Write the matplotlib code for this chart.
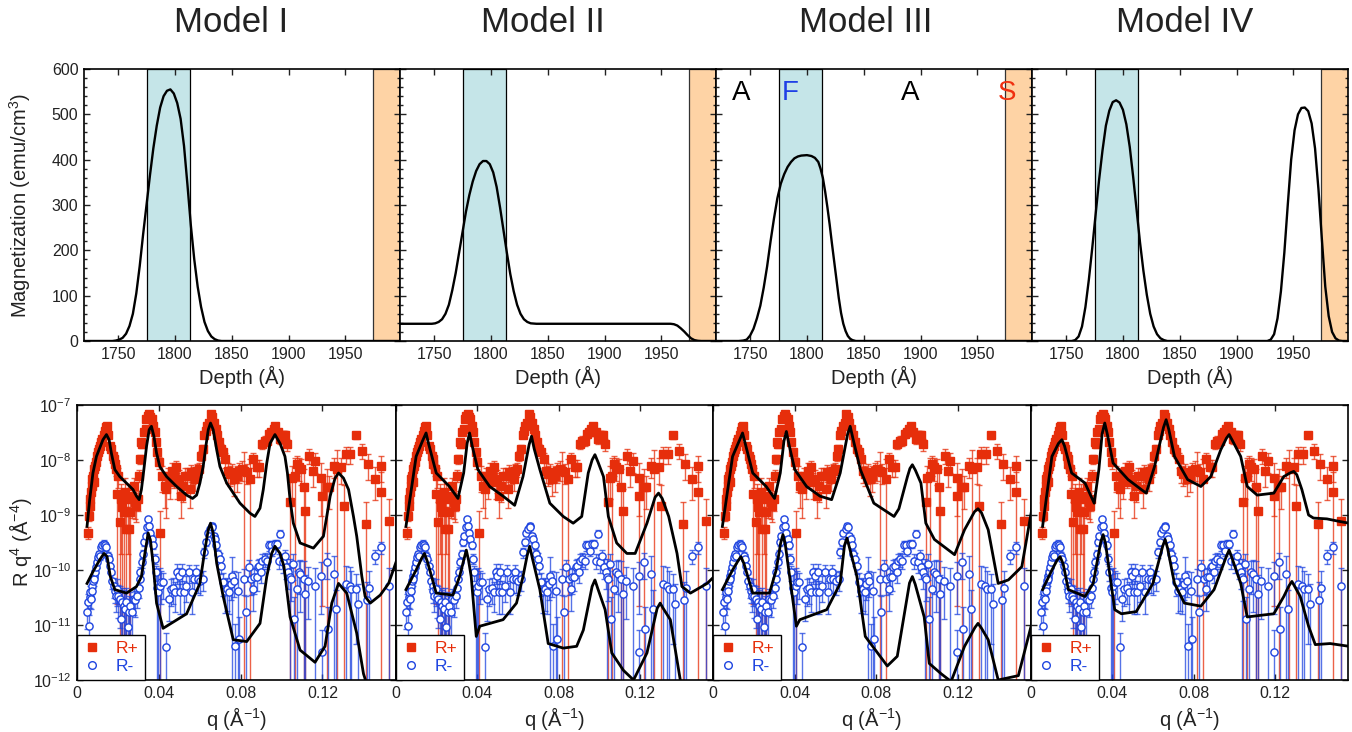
import numpy as np
import matplotlib
matplotlib.use('Agg')
import matplotlib.pyplot as plt
from matplotlib.lines import Line2D
from matplotlib.ticker import MultipleLocator, NullLocator, FixedLocator, FuncFormatter, LogLocator

plt.rcParams['font.family'] = ['Liberation Sans', 'DejaVu Sans']
plt.rcParams['mathtext.fontset'] = 'custom'
plt.rcParams['mathtext.rm'] = 'Liberation Sans'
plt.rcParams['mathtext.it'] = 'Liberation Sans:italic'
plt.rcParams['mathtext.default'] = 'regular'

# ---------------- data ----------------
model_names = ['Model I', 'Model II', 'Model III', 'Model IV']

band_F = (1775, 1813)
band_S = (1974, 2010)

depth_I = [1720, 1745, 1748, 1751, 1754, 1757, 1760, 1763, 1766, 1769, 1772, 1775, 1778, 1781, 1784,
           1787, 1790, 1793, 1796, 1799, 1802, 1805, 1808, 1811, 1814, 1817, 1820, 1823, 1826, 1829,
           1832, 1835, 1838, 1841, 1998]
mag_I = [0, 0, 1, 3, 7, 16, 33, 60, 105, 165, 235, 300, 365, 425, 475,
         515, 540, 552, 555, 546, 525, 490, 430, 345, 255, 180, 120, 75, 42, 22,
         10, 4, 1, 0, 0]

depth_II = [1720, 1748, 1751, 1754, 1757, 1760, 1763, 1766, 1769, 1772, 1775, 1778, 1781, 1784, 1787,
            1790, 1793, 1796, 1799, 1802, 1805, 1808, 1811, 1814, 1817, 1820, 1823, 1826, 1829, 1832,
            1835, 1840, 1958, 1961, 1964, 1967, 1970, 1973, 1976, 1979, 1982, 1985, 1998]
mag_II = [38, 38, 39, 42, 48, 60, 80, 112, 150, 195, 240, 285, 322, 352, 375,
          390, 397, 397, 390, 372, 340, 295, 245, 195, 148, 110, 80, 60, 48, 42,
          39, 38, 38, 37, 34, 28, 21, 13, 6, 2, 0.5, 0, 0]

depth_III = [1720, 1740, 1744, 1747, 1750, 1753, 1756, 1759, 1762, 1765, 1768, 1771, 1774, 1777, 1780,
             1783, 1786, 1789, 1792, 1795, 1800, 1804, 1807, 1810, 1812, 1814, 1816, 1818, 1820, 1822,
             1824, 1826, 1828, 1830, 1832, 1834, 1836, 1838, 1840, 1843, 1998]
mag_III = [0, 0, 1, 3, 12, 27, 50, 78, 118, 165, 220, 270, 315, 347, 368,
           384, 395, 403, 407, 409, 410, 408, 404, 395, 380, 360, 330, 295, 257, 215,
           175, 135, 95, 62, 38, 22, 11, 5, 2, 0, 0]

depth_IV = [1720, 1755, 1758, 1761, 1764, 1767, 1770, 1773, 1776, 1779, 1782, 1785, 1788, 1791, 1794,
            1797, 1800, 1803, 1806, 1809, 1812, 1815, 1818, 1821, 1824, 1827, 1830, 1833, 1836, 1839,
            1927, 1930, 1933, 1936, 1939, 1942, 1945, 1948, 1951, 1954, 1957, 1960, 1963, 1966, 1969,
            1972, 1975, 1978, 1981, 1984, 1987, 1990, 1993, 1998]
mag_IV = [0, 0, 2, 10, 32, 75, 135, 205, 280, 355, 420, 475, 508, 527, 531,
          526, 510, 478, 428, 362, 290, 218, 155, 102, 60, 32, 15, 6, 2, 0,
          0, 3, 15, 50, 110, 195, 300, 400, 465, 500, 514, 515, 507, 480, 425,
          335, 225, 120, 55, 20, 6, 1, 0, 0]

# measured reflectivity R q^4 (shared by all models)
q_plus = [0.0054, 0.0057, 0.0062, 0.0065, 0.0069, 0.0072, 0.0075, 0.0078, 0.0082, 0.0085,
          0.0090, 0.0093, 0.0098, 0.0103, 0.0108, 0.0114, 0.0119, 0.0124, 0.0131, 0.0137,
          0.0144, 0.0147, 0.0153, 0.0160, 0.0168, 0.0175, 0.0180, 0.0184, 0.0191, 0.0196,
          0.0201, 0.0209, 0.0215, 0.0222, 0.0228, 0.0235, 0.0242, 0.0248, 0.0255, 0.0261,
          0.0269, 0.0277, 0.0286, 0.0290, 0.0297, 0.0302, 0.0307, 0.0313, 0.0320, 0.0326,
          0.0335, 0.0339, 0.0346, 0.0353, 0.0359, 0.0366, 0.0372, 0.0379, 0.0385, 0.0392,
          0.0400, 0.0408, 0.0418, 0.0428, 0.0437, 0.0444, 0.0454, 0.0465, 0.0473, 0.0483,
          0.0490, 0.0499, 0.0509, 0.0519, 0.0529, 0.0539, 0.0552, 0.0558, 0.0568, 0.0579,
          0.0588, 0.0597, 0.0607, 0.0614, 0.0623, 0.0630, 0.0636, 0.0646, 0.0653, 0.0661,
          0.0669, 0.0679, 0.0685, 0.0695, 0.0705, 0.0715, 0.0726, 0.0738, 0.0747, 0.0759,
          0.0770, 0.0780, 0.0793, 0.0806, 0.0819, 0.0831, 0.0847, 0.0863, 0.0880, 0.0891,
          0.0904, 0.0917, 0.0929, 0.0940, 0.0950, 0.0961, 0.0969, 0.0982, 0.0994, 0.1005,
          0.1018, 0.1028, 0.1043, 0.1051, 0.1064, 0.1075, 0.1084, 0.1097, 0.1108, 0.1116,
          0.1136, 0.1152, 0.1165, 0.1195, 0.1198, 0.1222, 0.1231, 0.1255, 0.1271, 0.1293,
          0.1306, 0.1315, 0.1337, 0.1364, 0.1394, 0.1413, 0.1423, 0.1456, 0.1485, 0.1487,
          0.1526]
R_plus = [4.8e-10, 9.7e-10, 1.95e-9, 1.48e-9, 2.6e-9, 4.5e-9, 3.4e-9, 5.2e-9, 6.9e-9, 3.9e-9,
          7.9e-9, 9.1e-9, 1.2e-8, 1.38e-8, 1.6e-8, 1.8e-8, 2.1e-8, 2.4e-8, 2.8e-8, 3.4e-8,
          3.9e-8, 4.2e-8, 2.8e-8, 1.8e-8, 1.6e-8, 1.2e-8, 1.04e-8, 8.5e-9, 6.9e-9, 2.4e-9,
          5.2e-9, 7.4e-10, 1.95e-9, 1.38e-9, 1.12e-9, 2.6e-9, 5.6e-10, 1.95e-9, 5.6e-10, 1.12e-9,
          2.25e-9, 3.4e-9, 1.7e-9, 1.48e-9, 1.95e-9, 5.2e-9, 1.04e-8, 2.1e-8, 1.95e-8, 3.2e-8,
          3.7e-8, 5.6e-8, 6.4e-8, 6.9e-8, 6.0e-8, 5.6e-8, 4.2e-8, 3.2e-8, 2.1e-8, 1.38e-8,
          9.1e-9, 4.8e-10, 5.2e-9, 3.4e-9, 3.0e-9, 5.2e-9, 3.9e-9, 6.4e-9, 5.2e-9, 7.4e-9,
          3.9e-9, 4.5e-9, 2.25e-9, 3.4e-9, 5.2e-9, 5.2e-9, 3.0e-9, 6.0e-9, 5.6e-9, 4.5e-9,
          6.4e-9, 6.9e-9, 1.2e-8, 1.6e-8, 2.8e-8, 3.4e-8, 4.2e-8, 4.8e-8, 6.9e-8, 6.0e-8,
          4.8e-8, 3.7e-8, 2.8e-8, 2.1e-8, 1.6e-8, 1.38e-8, 1.04e-8, 6.4e-9, 5.6e-9, 6.0e-9,
          4.5e-9, 5.2e-9, 6.4e-9, 6.9e-9, 6.4e-9, 6.0e-9, 4.5e-9, 1.04e-8, 7.4e-9, 7.4e-9,
          1.95e-8, 2.25e-8, 2.25e-8, 3.0e-8, 3.2e-8, 3.7e-8, 4.2e-8, 3.2e-8, 2.4e-8, 2.8e-8,
          2.8e-8, 1.95e-8, 1.7e-9, 4.8e-9, 5.2e-9, 8.5e-9, 7.4e-9, 6.9e-9, 3.2e-9, 1.2e-9,
          1.2e-8, 6.4e-9, 9.7e-9, 4.8e-9, 2.25e-9, 3.2e-9, 3.2e-9, 7.9e-9, 6.9e-9, 7.4e-9,
          1.48e-9, 1.29e-8, 1.29e-8, 2.8e-8, 1.48e-8, 6.9e-10, 8.5e-9, 4.6e-9, 7.9e-9, 2.6e-9,
          7.9e-10]
relerr_plus = [0.25, 0.2, 0.2, 0.2, 0.15, 0.15, 0.15, 0.15, 0.12, 0.15,
               0.12, 0.1, 0.1, 0.1, 0.1, 0.1, 0.1, 0.1, 0.1, 0.1,
               0.1, 0.1, 0.1, 0.12, 0.12, 0.15, 0.15, 0.2, 0.25, 0.99,
               0.4, 1.3, 0.9, 1.1, 1.2, 0.8, 1.5, 0.9, 1.5, 1.0,
               0.6, 0.4, 0.5, 0.5, 0.4, 0.25, 0.2, 0.15, 0.15, 0.1,
               0.1, 0.1, 0.1, 0.1, 0.1, 0.1, 0.1, 0.1, 0.15, 0.2,
               0.25, 1.5, 0.5, 0.6, 0.7, 0.4, 0.5, 0.35, 0.4, 0.3,
               0.5, 0.45, 0.6, 0.5, 0.4, 0.4, 0.55, 0.35, 0.35, 0.4,
               0.3, 0.3, 0.2, 0.15, 0.12, 0.1, 0.1, 0.1, 0.1, 0.1,
               0.1, 0.1, 0.12, 0.15, 0.2, 0.2, 0.3, 0.4, 0.4, 0.4,
               0.5, 0.5, 0.4, 0.4, 1.2, 0.4, 1.3, 0.3, 0.35, 0.35,
               0.2, 0.2, 0.2, 0.15, 0.15, 0.12, 0.12, 0.15, 0.2, 0.2,
               0.2, 0.25, 1.5, 0.6, 1.1, 0.4, 0.45, 0.5, 1.1, 1.5,
               0.3, 0.5, 0.4, 0.8, 0.99, 1.1, 0.6, 0.4, 1.2, 0.5,
               1.4, 0.35, 0.35, 0.15, 0.3, 1.5, 0.5, 0.6, 0.5, 1.3,
               1.5]

q_minus = [0.0049, 0.0054, 0.0059, 0.0062, 0.0065, 0.0069, 0.0072, 0.0075, 0.0078, 0.0082,
           0.0085, 0.0090, 0.0095, 0.0098, 0.0103, 0.0108, 0.0114, 0.0119, 0.0124, 0.0131,
           0.0137, 0.0144, 0.0150, 0.0155, 0.0160, 0.0166, 0.0173, 0.0180, 0.0184, 0.0189,
           0.0196, 0.0202, 0.0209, 0.0215, 0.0222, 0.0228, 0.0235, 0.0242, 0.0248, 0.0255,
           0.0261, 0.0269, 0.0277, 0.0286, 0.0294, 0.0302, 0.0307, 0.0310, 0.0317, 0.0323,
           0.0330, 0.0336, 0.0343, 0.0348, 0.0353, 0.0359, 0.0366, 0.0372, 0.0379, 0.0385,
           0.0392, 0.0398, 0.0405, 0.0411, 0.0421, 0.0437, 0.0449, 0.0460, 0.0470, 0.0481,
           0.0490, 0.0498, 0.0506, 0.0514, 0.0522, 0.0535, 0.0547, 0.0563, 0.0574, 0.0584,
           0.0591, 0.0601, 0.0617, 0.0623, 0.0633, 0.0640, 0.0650, 0.0658, 0.0661, 0.0669,
           0.0676, 0.0682, 0.0689, 0.0698, 0.0705, 0.0715, 0.0725, 0.0734, 0.0744, 0.0751,
           0.0759, 0.0767, 0.0774, 0.0786, 0.0790, 0.0819, 0.0826, 0.0839, 0.0849, 0.0863,
           0.0868, 0.0878, 0.0884, 0.0891, 0.0901, 0.0907, 0.0917, 0.0929, 0.0937, 0.0947,
           0.0953, 0.0966, 0.0976, 0.0986, 0.0994, 0.1005, 0.1015, 0.1022, 0.1031, 0.1040,
           0.1045, 0.1054, 0.1059, 0.1075, 0.1084, 0.1092, 0.1108, 0.1116, 0.1132, 0.1165,
           0.1195, 0.1198, 0.1222, 0.1226, 0.1255, 0.1267, 0.1315, 0.1335, 0.1342, 0.1364,
           0.1374, 0.1418, 0.1426, 0.1456, 0.1487, 0.1526]
R_minus = [1.7e-11, 2.6e-11, 9.7e-12, 3.2e-11, 3.9e-11, 3.0e-11, 5.2e-11, 4.2e-11, 6.4e-11, 7.9e-11,
           6.9e-11, 9.1e-11, 1.12e-10, 1.38e-10, 1.7e-10, 1.95e-10, 1.8e-10, 2.6e-10, 2.8e-10, 3.0e-10,
           2.8e-10, 2.6e-10, 1.8e-10, 1.6e-10, 1.2e-10, 9.1e-11, 6.4e-11, 5.2e-11, 4.2e-11, 3.4e-11,
           4.5e-11, 3.4e-11, 3.0e-11, 1.29e-11, 2.6e-11, 2.25e-11, 1.95e-11, 2.6e-11, 9.1e-12, 1.7e-11,
           2.25e-11, 1.7e-11, 3.0e-11, 2.8e-11, 3.4e-11, 4.8e-11, 6.9e-11, 9.1e-11, 1.38e-10, 1.95e-10,
           3.2e-10, 4.2e-10, 6.0e-10, 8.5e-10, 6.4e-10, 4.8e-10, 3.7e-10, 2.8e-10, 1.6e-10, 9.1e-11,
           4.8e-11, 3.9e-11, 5.2e-11, 6.0e-11, 6.0e-11, 3.9e-12, 3.0e-11, 4.5e-11, 4.8e-11, 3.9e-11,
           9.1e-11, 7.9e-11, 3.9e-11, 9.1e-11, 3.9e-11, 5.2e-11, 9.1e-11, 3.9e-11, 6.9e-11, 9.1e-11,
           6.9e-11, 6.4e-11, 6.9e-11, 2.1e-10, 3.2e-10, 4.8e-10, 5.6e-10, 6.4e-10, 6.0e-10, 4.2e-10,
           3.7e-10, 2.8e-10, 1.95e-10, 1.6e-10, 1.2e-10, 6.0e-11, 4.2e-11, 4.5e-11, 3.9e-11, 5.6e-11,
           7.9e-11, 6.4e-11, 4.2e-12, 4.2e-11, 5.6e-12, 6.9e-11, 1.7e-11, 1.12e-10, 6.9e-11, 4.5e-11,
           7.4e-11, 7.4e-11, 1.12e-10, 1.2e-10, 9.1e-11, 1.48e-10, 1.6e-10, 1.48e-10, 2.8e-10, 2.8e-10,
           2.25e-10, 3.0e-10, 3.0e-10, 1.48e-10, 4.6e-10, 1.38e-10, 1.8e-10, 1.12e-10, 9.1e-11, 7.4e-11,
           6.9e-11, 1.29e-10, 1.29e-11, 4.5e-11, 9.1e-11, 8.5e-11, 6.9e-11, 3.7e-11, 6.4e-11, 5.2e-11,
           7.9e-11, 3.2e-12, 1.38e-10, 8.5e-12, 8.5e-11, 1.95e-11, 5.6e-11, 5.2e-11, 4.5e-11, 4.5e-11,
           2.4e-11, 2.8e-11, 4.8e-11, 1.8e-10, 2.6e-10, 5.2e-11]
relerr_minus = [0.5, 0.4, 0.6, 0.35, 0.3, 0.35, 0.3, 0.3, 0.25, 0.25,
                0.25, 0.2, 0.2, 0.2, 0.15, 0.15, 0.15, 0.15, 0.15, 0.15,
                0.15, 0.15, 0.2, 0.2, 0.25, 0.3, 0.3, 0.4, 0.4, 0.5,
                0.5, 0.6, 0.7, 1.2, 0.8, 0.9, 1.0, 0.8, 1.3, 1.0,
                0.8, 0.9, 0.5, 0.5, 0.4, 0.35, 0.3, 0.25, 0.2, 0.2,
                0.15, 0.12, 0.1, 0.1, 0.1, 0.12, 0.15, 0.15, 0.2, 0.3,
                1.2, 1.2, 1.1, 0.6, 0.5, 0.8, 0.6, 0.5, 0.5, 0.55,
                0.4, 0.4, 0.6, 0.4, 0.6, 0.5, 0.35, 0.6, 0.45, 0.35,
                0.45, 0.45, 0.4, 0.2, 0.15, 0.12, 0.1, 0.1, 0.1, 0.12,
                0.15, 0.15, 0.2, 0.25, 0.3, 0.45, 0.6, 0.6, 0.6, 0.5,
                1.2, 0.5, 1.5, 1.2, 1.5, 0.5, 1.0, 0.35, 0.5, 0.6,
                0.5, 0.45, 0.35, 0.3, 0.35, 0.3, 0.3, 0.3, 0.2, 0.2,
                0.2, 0.15, 0.15, 0.3, 0.15, 0.35, 0.3, 0.4, 0.5, 1.1,
                0.6, 0.5, 1.5, 1.1, 0.6, 0.8, 1.1, 1.2, 0.8, 1.1,
                0.8, 1.5, 0.5, 1.5, 1.1, 1.2, 1.1, 1.2, 1.1, 0.9,
                1.3, 1.2, 1.0, 0.3, 0.25, 1.1]

# model fits
fitI_q_plus = [0.0049, 0.0062, 0.0078, 0.0095, 0.0111, 0.0127, 0.0144, 0.0157, 0.0168, 0.0185,
               0.0209, 0.0242, 0.0274, 0.0291, 0.0304, 0.0315, 0.0327, 0.0340, 0.0353, 0.0364,
               0.0376, 0.0389, 0.0405, 0.0438, 0.0487, 0.0536, 0.0565, 0.0585, 0.0601, 0.0617,
               0.0630, 0.0642, 0.0653, 0.0666, 0.0683, 0.0699, 0.0732, 0.0797, 0.0846, 0.0870,
               0.0895, 0.0911, 0.0928, 0.0944, 0.0968, 0.0993, 0.1017, 0.1029, 0.1042, 0.1058,
               0.1091, 0.1156, 0.1205, 0.1238, 0.1262, 0.1279, 0.1303, 0.1328, 0.1352, 0.1368,
               0.1393, 0.1409, 0.1434, 0.1483, 0.1524, 0.1564]
fitI_R_plus = [6.2e-10, 1.9e-9, 5.8e-9, 1.16e-8, 1.65e-8, 2.34e-8, 2.9e-8, 2.34e-8, 1.34e-8, 6.7e-9,
               5.0e-9, 3.8e-9, 2.9e-9, 2.2e-9, 1.9e-9, 2.9e-9, 6.7e-9, 1.77e-8, 3.56e-8, 4.1e-8,
               2.7e-8, 1.34e-8, 7.6e-9, 5.0e-9, 3.3e-9, 2.3e-9, 2.0e-9, 2.3e-9, 3.8e-9, 7.6e-9,
               1.77e-8, 3.56e-8, 4.7e-8, 3.56e-8, 1.54e-8, 7.6e-9, 3.8e-9, 1.64e-9, 1.08e-9, 9.4e-10,
               1.33e-9, 2.9e-9, 8.8e-9, 2.0e-8, 2.9e-8, 2.0e-8, 1.16e-8, 5.8e-9, 1.9e-9, 7.1e-10,
               3.1e-10, 2.5e-10, 4.1e-10, 2.2e-9, 4.7e-9, 5.8e-9, 4.7e-9, 2.9e-9, 9.4e-10, 4.1e-10,
               7.6e-11, 3.3e-11, 2.5e-11, 3.5e-11, 5.7e-11, 1.53e-10]
fitI_q_minus = [0.0049, 0.0078, 0.0111, 0.0132, 0.0147, 0.0163, 0.0185, 0.0242, 0.0291, 0.0315,
                0.0332, 0.0348, 0.0359, 0.0372, 0.0389, 0.0421, 0.0536, 0.0601, 0.0625, 0.0642,
                0.0653, 0.0666, 0.0683, 0.0715, 0.0764, 0.0830, 0.0895, 0.0928, 0.0952, 0.0968,
                0.0993, 0.1012, 0.1042, 0.1091, 0.1164, 0.1213, 0.1246, 0.1279, 0.1319, 0.1368,
                0.1401, 0.1426]
fitI_R_minus = [5.7e-11, 9.3e-11, 1.53e-10, 2.0e-10, 1.76e-10, 7.6e-11, 4.4e-11, 3.8e-11, 5.0e-11, 7.6e-11,
                2.0e-10, 4.7e-10, 3.5e-10, 1.33e-10, 2.5e-11, 8.7e-12, 1.6e-11, 5.7e-11, 2.3e-10, 5.4e-10,
                7.1e-10, 4.7e-10, 1.33e-10, 3.3e-11, 5.4e-12, 5.0e-12, 1.07e-11, 7.6e-11, 2.0e-10, 2.7e-10,
                2.0e-10, 1.16e-10, 1.4e-11, 3.5e-12, 2.1e-12, 4.1e-12, 2.5e-11, 5.7e-11, 3.8e-11, 7.1e-12,
                1.3e-12, 6.6e-13]

fitII_q_plus = [0.0049, 0.0099, 0.0130, 0.0148, 0.0160, 0.0198, 0.0263, 0.0305, 0.0333, 0.0350,
                0.0362, 0.0375, 0.0403, 0.0461, 0.0527, 0.0584, 0.0625, 0.0655, 0.0667, 0.0680,
                0.0708, 0.0757, 0.0823, 0.0872, 0.0914, 0.0946, 0.0965, 0.0979, 0.0995, 0.1021,
                0.1045, 0.1086, 0.1136, 0.1177, 0.1235, 0.1275, 0.1292, 0.1310, 0.1342, 0.1383,
                0.1407, 0.1449, 0.1531, 0.1572]
fitII_R_plus = [6.2e-10, 1.16e-8, 2.2e-8, 3.1e-8, 2.0e-8, 5.8e-9, 3.3e-9, 2.0e-9, 5.8e-9, 2.0e-8,
                3.1e-8, 1.8e-8, 6.7e-9, 3.3e-9, 2.2e-9, 1.5e-9, 5.0e-9, 1.9e-8, 2.7e-8, 1.6e-8,
                6.7e-9, 1.64e-9, 9.4e-10, 7.1e-10, 9.4e-10, 5.8e-9, 1.0e-8, 1.25e-8, 9.0e-9, 5.0e-9,
                9.4e-10, 3.1e-10, 2.0e-10, 2.0e-10, 7.1e-10, 2.1e-9, 2.5e-9, 2.0e-9, 9.4e-10, 2.0e-10,
                5.0e-11, 3.8e-11, 5.7e-11, 8.0e-11]
fitII_q_minus = [0.0049, 0.0099, 0.0125, 0.0140, 0.0155, 0.0198, 0.0280, 0.0313, 0.0335, 0.0346,
                 0.0357, 0.0370, 0.0395, 0.0412, 0.0527, 0.0593, 0.0625, 0.0645, 0.0658, 0.0670,
                 0.0708, 0.0749, 0.0823, 0.0889, 0.0922, 0.0965, 0.0979, 0.0993, 0.1029, 0.1062,
                 0.1119, 0.1169, 0.1235, 0.1285, 0.1300, 0.1315, 0.1350, 0.1399, 0.1416]
fitII_R_minus = [4.4e-11, 1.0e-10, 1.6e-10, 2.0e-10, 1.4e-10, 3.8e-11, 3.5e-11, 7.6e-11, 1.6e-10, 2.3e-10,
                 1.5e-10, 7.6e-11, 6.2e-12, 9.5e-12, 1.25e-11, 2.5e-11, 7.6e-11, 1.8e-10, 2.7e-10, 1.7e-10,
                 4.4e-11, 4.6e-12, 3.8e-12, 4.1e-12, 8.1e-12, 5.0e-11, 6.6e-11, 4.6e-11, 1.9e-11, 3.1e-12,
                 1.5e-12, 1.0e-12, 3.1e-12, 2.0e-11, 2.5e-11, 2.0e-11, 1.25e-11, 1.0e-12, 6.6e-13]

fitIII_q_plus = [0.0046, 0.0096, 0.0128, 0.0145, 0.0158, 0.0195, 0.0261, 0.0302, 0.0330, 0.0348,
                 0.0360, 0.0373, 0.0401, 0.0459, 0.0525, 0.0582, 0.0624, 0.0660, 0.0673, 0.0686,
                 0.0723, 0.0789, 0.0888, 0.0912, 0.0954, 0.0966, 0.0978, 0.0993, 0.1020, 0.1044,
                 0.1086, 0.1185, 0.1234, 0.1283, 0.1300, 0.1317, 0.1350, 0.1399, 0.1449, 0.1515,
                 0.1572]
fitIII_R_plus = [6.2e-10, 1.16e-8, 2.2e-8, 3.1e-8, 2.0e-8, 5.8e-9, 3.3e-9, 2.0e-9, 5.8e-9, 2.2e-8,
                 3.3e-8, 1.9e-8, 6.7e-9, 3.3e-9, 2.2e-9, 1.9e-9, 5.8e-9, 2.9e-8, 4.1e-8, 2.5e-8,
                 6.7e-9, 1.64e-9, 9.4e-10, 1.3e-9, 5.0e-9, 7.0e-9, 8.2e-9, 6.5e-9, 3.8e-9, 7.1e-10,
                 3.6e-10, 1.9e-10, 5.4e-10, 1.15e-9, 1.3e-9, 1.1e-9, 5.4e-10, 5.7e-11, 6.6e-11, 1.15e-10,
                 1.9e-9]
fitIII_q_minus = [0.0046, 0.0096, 0.0122, 0.0137, 0.0152, 0.0195, 0.0277, 0.0310, 0.0332, 0.0343,
                  0.0354, 0.0376, 0.0409, 0.0426, 0.0558, 0.0624, 0.0645, 0.0657, 0.0669, 0.0706,
                  0.0747, 0.0855, 0.0904, 0.0964, 0.0978, 0.0992, 0.1036, 0.1061, 0.1119, 0.1168,
                  0.1234, 0.1285, 0.1300, 0.1315, 0.1350, 0.1399, 0.1498, 0.1572]
fitIII_R_minus = [4.4e-11, 1.0e-10, 1.45e-10, 1.75e-10, 1.3e-10, 3.8e-11, 3.8e-11, 1.0e-10, 3.1e-10, 4.4e-10,
                  3.0e-10, 7.6e-11, 9.5e-12, 1.25e-11, 1.9e-11, 5.7e-11, 2.8e-10, 3.8e-10, 2.6e-10, 7.6e-11,
                  6.2e-12, 1.8e-12, 2.7e-12, 5.8e-11, 7.6e-11, 5.5e-11, 1.4e-11, 2.0e-12, 1.3e-12, 9.4e-13,
                  4.1e-12, 9.0e-12, 1.07e-11, 9.0e-12, 5.4e-12, 1.0e-12, 1.2e-12, 1.4e-11]

fitIV_q_plus = [0.0057, 0.0103, 0.0135, 0.0152, 0.0165, 0.0200, 0.0266, 0.0311, 0.0334, 0.0350,
                0.0363, 0.0376, 0.0404, 0.0478, 0.0543, 0.0567, 0.0608, 0.0652, 0.0665, 0.0678,
                0.0706, 0.0771, 0.0836, 0.0885, 0.0934, 0.0962, 0.0975, 0.0990, 0.1032, 0.1064,
                0.1113, 0.1195, 0.1244, 0.1278, 0.1293, 0.1308, 0.1333, 0.1366, 0.1390, 0.1456,
                0.1521, 0.1565]
fitIV_R_plus = [6.2e-10, 1.16e-8, 2.0e-8, 2.34e-8, 1.8e-8, 5.8e-9, 3.8e-9, 1.64e-9, 6.7e-9, 3.0e-8,
                4.7e-8, 2.9e-8, 8.8e-9, 4.4e-9, 2.9e-9, 2.5e-9, 7.6e-9, 3.9e-8, 5.4e-8, 3.6e-8,
                1.16e-8, 4.4e-9, 3.3e-9, 5.0e-9, 1.54e-8, 2.5e-8, 2.9e-8, 2.3e-8, 1.16e-8, 3.3e-9,
                2.3e-9, 2.5e-9, 5.0e-9, 5.9e-9, 6.2e-9, 5.4e-9, 2.9e-9, 1.0e-9, 8.8e-10, 8.5e-10,
                7.6e-10, 7.1e-10]
fitIV_q_minus = [0.0057, 0.0103, 0.0128, 0.0143, 0.0158, 0.0184, 0.0266, 0.0306, 0.0343, 0.0355,
                 0.0367, 0.0380, 0.0412, 0.0445, 0.0518, 0.0600, 0.0648, 0.0660, 0.0672, 0.0706,
                 0.0755, 0.0836, 0.0901, 0.0962, 0.0975, 0.0988, 0.1032, 0.1064, 0.1130, 0.1195,
                 0.1244, 0.1270, 0.1284, 0.1298, 0.1325, 0.1366, 0.1399, 0.1472, 0.1565]
fitIV_R_minus = [4.4e-11, 1.0e-10, 1.5e-10, 1.75e-10, 1.3e-10, 4.4e-11, 3.3e-11, 5.7e-11, 3.2e-10, 4.4e-10,
                 3.0e-10, 1.33e-10, 1.9e-11, 1.6e-11, 1.75e-11, 5.7e-11, 2.7e-10, 3.6e-10, 2.5e-10, 5.7e-11,
                 2.5e-11, 2.2e-11, 4.4e-11, 1.8e-10, 2.3e-10, 1.7e-10, 5.7e-11, 1.4e-11, 1.5e-11, 1.6e-11,
                 3.3e-11, 5.2e-11, 6.2e-11, 5.0e-11, 3.3e-11, 9.5e-12, 4.4e-12, 4.6e-12, 4.1e-12]

profiles = [(depth_I, mag_I), (depth_II, mag_II), (depth_III, mag_III), (depth_IV, mag_IV)]
fits = [
    (fitI_q_plus, fitI_R_plus, fitI_q_minus, fitI_R_minus),
    (fitII_q_plus, fitII_R_plus, fitII_q_minus, fitII_R_minus),
    (fitIII_q_plus, fitIII_R_plus, fitIII_q_minus, fitIII_R_minus),
    (fitIV_q_plus, fitIV_R_plus, fitIV_q_minus, fitIV_R_minus),
]

layer_labels = [('A', 1742, 'black'), ('F', 1785, '#1f3fe6'), ('A', 1891, 'black'), ('S', 1976, '#f03010')]

# ---------------- styling ----------------
W, H = 1352, 732
RED = '#e62e0b'
BLUE = '#1e44e0'
TXT = '#222222'
BAND_F_COLOR = '#c5e5e8'
BAND_S_COLOR = '#fed3a5'

fig = plt.figure(figsize=(W / 100, H / 100), dpi=100)

top_lefts = [84, 400, 716, 1032]
top_rights = [400, 716, 1032, 1348]
bot_lefts = [77, 396, 713, 1031]
bot_rights = [396, 713, 1031, 1348]
top_y0, top_y1 = 69, 341
bot_y0, bot_y1 = 405, 680
title_x = [231, 543, 866, 1185]


def tick_style(ax):
    ax.tick_params(which='both', direction='in', top=True, right=True, colors=TXT,
                   labelsize=11.5, width=1.0, pad=4)
    ax.tick_params(which='major', length=4.5)
    ax.tick_params(which='minor', length=2.5)
    for s in ax.spines.values():
        s.set_linewidth(1.2)
        s.set_color('black')


def errs(vals, rel):
    v = np.asarray(vals)
    r = np.asarray(rel)
    lo = np.where(r >= 1, v - 1e-15, v * r)
    hi = v * r
    return [lo, hi]


red_e = matplotlib.colors.to_rgba(RED, 0.75)
blue_e = matplotlib.colors.to_rgba(BLUE, 0.75)

for i in range(4):
    # ---------- top: magnetization profile ----------
    ax = fig.add_axes([top_lefts[i] / W, (H - top_y1) / H,
                       (top_rights[i] - top_lefts[i]) / W, (top_y1 - top_y0) / H])
    ax.axvspan(band_F[0], band_F[1], facecolor=BAND_F_COLOR, edgecolor='black', lw=0.9, zorder=0)
    ax.axvspan(band_S[0], band_S[1], facecolor=BAND_S_COLOR, edgecolor='#333333', lw=0.9, zorder=0)
    d, m = profiles[i]
    ax.plot(d, m, color='black', lw=1.7, zorder=3, solid_joinstyle='round')
    ax.set_xlim(1720, 1998)
    ax.set_ylim(0, 600)
    ax.xaxis.set_major_locator(FixedLocator([1750, 1800, 1850, 1900, 1950]))
    ax.xaxis.set_minor_locator(NullLocator())
    ax.yaxis.set_major_locator(MultipleLocator(100))
    ax.yaxis.set_minor_locator(MultipleLocator(20))
    tick_style(ax)
    ax.set_xlabel('Depth (Å)', fontsize=14.5, color=TXT, labelpad=3)
    if i == 0:
        ax.set_ylabel('Magnetization (emu/cm$^3$)', fontsize=14.5, color=TXT)
        ax.yaxis.set_label_coords(-0.16, 0.5)
    else:
        ax.tick_params(labelleft=False)
    if i == 2:
        for txt, xd, col in layer_labels:
            ax.text(xd, 547, txt, color=col, fontsize=20, ha='center', va='center', zorder=4)
    fig.text(title_x[i] / W, 1 - 22 / H, model_names[i], fontsize=25, color=TXT,
             ha='center', va='center')

    # ---------- bottom: reflectivity ----------
    bx = fig.add_axes([bot_lefts[i] / W, (H - bot_y1) / H,
                       (bot_rights[i] - bot_lefts[i]) / W, (bot_y1 - bot_y0) / H])
    bx.set_yscale('log')
    bx.errorbar(q_plus, R_plus, yerr=errs(R_plus, relerr_plus), fmt='s', ms=5.2,
                mfc=RED, mec=RED, ecolor=red_e, elinewidth=1.0, capsize=2, capthick=1.0, zorder=2)
    bx.errorbar(q_minus, R_minus, yerr=errs(R_minus, relerr_minus), fmt='o', ms=5.2,
                mfc='white', mec=BLUE, mew=1.0, ecolor=blue_e, elinewidth=1.0, capsize=2,
                capthick=1.0, zorder=2.5)
    fqp, frp, fqm, frm = fits[i]
    bx.plot(fqp, frp, color='black', lw=2.0, zorder=4, solid_joinstyle='round')
    bx.plot(fqm, frm, color='black', lw=2.0, zorder=4, solid_joinstyle='round')
    bx.set_xlim(0, 0.156)
    bx.set_ylim(1e-12, 1e-7)
    bx.xaxis.set_major_locator(FixedLocator([0, 0.04, 0.08, 0.12]))
    bx.xaxis.set_major_formatter(FuncFormatter(lambda v, p: '0' if abs(v) < 1e-9 else f'{v:.2f}'))
    bx.xaxis.set_minor_locator(NullLocator())
    bx.yaxis.set_major_locator(LogLocator(base=10, numticks=10))
    bx.yaxis.set_minor_locator(NullLocator())
    tick_style(bx)
    bx.set_xlabel('q (Å$^{-1}$)', fontsize=14.5, color=TXT, labelpad=3)
    if i == 0:
        bx.set_ylabel('R q$^4$ (Å$^{-4}$)', fontsize=14.5, color=TXT)
        bx.yaxis.set_label_coords(-0.135, 0.5)
    else:
        bx.tick_params(labelleft=False)
    handles = [Line2D([], [], ls='none', marker='s', ms=6, mfc=RED, mec=RED),
               Line2D([], [], ls='none', marker='o', ms=5.5, mfc='white', mec=BLUE, mew=1.0)]
    leg = bx.legend(handles, ['R+', 'R-'], loc='lower left', borderaxespad=0, fancybox=False,
                    framealpha=1, edgecolor='black', fontsize=12.5, labelcolor=[RED, BLUE],
                    handlelength=1.0, handletextpad=0.9, borderpad=0.35, labelspacing=0.15)
    leg.get_frame().set_linewidth(1.0)
    leg.set_zorder(5)

fig.savefig('out.png', dpi=100)
